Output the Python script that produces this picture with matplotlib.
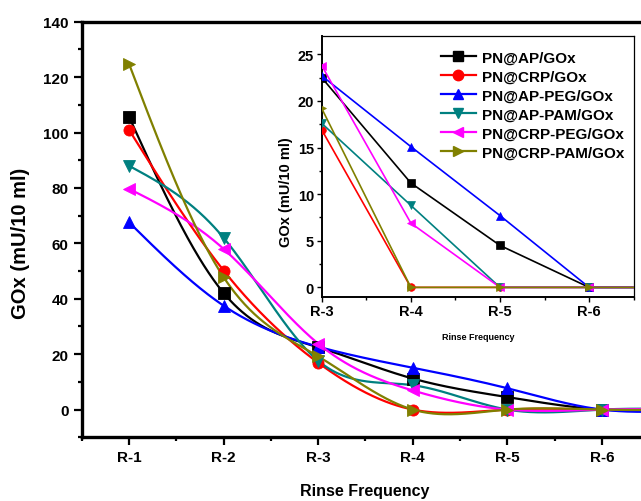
import numpy as np
import matplotlib
matplotlib.use("Agg")
import matplotlib.pyplot as plt
from matplotlib.ticker import MultipleLocator, FixedLocator

plt.rcParams["font.family"] = ["Liberation Sans", "DejaVu Sans"]
plt.rcParams["font.weight"] = "bold"

# Rinse steps (R-7 lies just past the visible range, where every series is back at zero)
rinse_labels = ["R-1", "R-2", "R-3", "R-4", "R-5", "R-6", "R-7"]

# GOx activity left on the particles after each rinse (mU/10 ml)
ap_gox = [105.7, 42.1, 22.5, 11.2, 4.5, 0.0, 0.0]
crp_gox = [101.0, 50.2, 16.9, 0.0, 0.0, 0.0, 0.0]
ap_peg_gox = [67.6, 37.5, 22.7, 15.1, 7.7, 0.0, 0.0]
ap_pam_gox = [88.0, 62.0, 17.6, 8.8, 0.0, 0.0, 0.0]
crp_peg_gox = [79.7, 58.0, 23.8, 6.9, 0.0, 0.0, 0.0]
crp_pam_gox = [124.8, 47.8, 19.2, 0.0, 0.0, 0.0, 0.0]

series_names = ["PN@AP/GOx", "PN@CRP/GOx", "PN@AP-PEG/GOx",
                "PN@AP-PAM/GOx", "PN@CRP-PEG/GOx", "PN@CRP-PAM/GOx"]
series_values = [ap_gox, crp_gox, ap_peg_gox, ap_pam_gox, crp_peg_gox, crp_pam_gox]
series_colors = ["#000000", "#ff0000", "#0000ff", "#008080", "#ff00ff", "#808000"]
series_markers = ["s", "o", "^", "v", "<", ">"]


def natural_cubic(x, y, xs):
    """Natural cubic spline through (x, y), evaluated at xs."""
    x = np.asarray(x, float)
    y = np.asarray(y, float)
    n = len(x)
    h = np.diff(x)
    A = np.zeros((n, n))
    b = np.zeros(n)
    A[0, 0] = A[-1, -1] = 1.0
    for i in range(1, n - 1):
        A[i, i - 1] = h[i - 1]
        A[i, i] = 2 * (h[i - 1] + h[i])
        A[i, i + 1] = h[i]
        b[i] = 6 * ((y[i + 1] - y[i]) / h[i] - (y[i] - y[i - 1]) / h[i - 1])
    M = np.linalg.solve(A, b)
    idx = np.clip(np.searchsorted(x, xs) - 1, 0, n - 2)
    x0, x1 = x[idx], x[idx + 1]
    hh = x1 - x0
    t0, t1 = x1 - xs, xs - x0
    return (M[idx] * t0 ** 3 / (6 * hh) + M[idx + 1] * t1 ** 3 / (6 * hh)
            + (y[idx] / hh - M[idx] * hh / 6) * t0
            + (y[idx + 1] / hh - M[idx + 1] * hh / 6) * t1)


W, H = 641, 502
fig = plt.figure(figsize=(W / 100, H / 100), dpi=100)

# ---------------- main panel ----------------
ax = fig.add_axes([81.7 / W, 1 - 438.3 / H, 567.6 / W, 415.6 / H])
xpos = np.arange(1, len(rinse_labels) + 1)
xs = np.linspace(xpos[0], xpos[-1], 600)

for name, vals, col, mk in zip(series_names, series_values, series_colors, series_markers):
    ax.plot(xs, natural_cubic(xpos, vals, xs), color=col, lw=1.6, zorder=2)
    ax.plot(xpos, vals, ls="none", marker=mk, ms=8, color=col,
            mec=col, mew=0.6, zorder=3)

ax.set_xlim(0.5, 6.5)
ax.set_ylim(-10, 140)
ax.xaxis.set_major_locator(FixedLocator(xpos))
ax.set_xticklabels(rinse_labels)
ax.xaxis.set_minor_locator(FixedLocator(np.arange(0.5, 7.6, 1.0)))
ax.yaxis.set_major_locator(MultipleLocator(20))
ax.yaxis.set_minor_locator(FixedLocator(np.arange(-10, 141, 10)))

for side in ("left", "bottom", "top"):
    ax.spines[side].set_linewidth(2.4)
ax.spines["right"].set_visible(False)
ax.tick_params(axis="both", which="major", direction="out", length=5.5, width=1.6,
               labelsize=11, pad=4)
ax.tick_params(axis="both", which="minor", direction="out", length=3, width=1.6)
for lab in ax.get_xticklabels() + ax.get_yticklabels():
    lab.set_fontweight("bold")

fig.text(20.7 / W, 1 - 243 / H, "GOx (mU/10 ml)", rotation=90, ha="center",
         va="center", fontsize=14.5, fontweight="bold")
fig.text(365 / W, 1 - 491.7 / H, "Rinse Frequency", ha="center", va="center",
         fontsize=11.5, fontweight="bold")

# ---------------- inset: R-3 to R-6 ----------------
ins = fig.add_axes([321.7 / W, 1 - 297.7 / H, 312.0 / W, 261.0 / H])
ins.set_facecolor("white")
legend_lines = []
for name, vals, col, mk in zip(series_names, series_values, series_colors, series_markers):
    ins.plot(xpos[2:], vals[2:], color=col, lw=1.2, marker=mk, ms=5.5, mec=col,
             mew=0.5, zorder=3)
    ln, = ins.plot([], [], color=col, lw=1.6, marker=mk, ms=7.5, mec=col, label=name)
    legend_lines.append(ln)

ins.set_xlim(3, 6.5)
ins.set_ylim(-1, 27)
ins.xaxis.set_major_locator(FixedLocator(xpos[2:6]))
ins.set_xticklabels(rinse_labels[2:6])
ins.xaxis.set_minor_locator(FixedLocator([3.5, 4.5, 5.5, 6.5]))
ins.yaxis.set_major_locator(MultipleLocator(5))
ins.yaxis.set_minor_locator(MultipleLocator(2.5))
ins.spines["left"].set_linewidth(1.4)
ins.spines["bottom"].set_linewidth(1.4)
ins.spines["top"].set_linewidth(0.9)
ins.spines["right"].set_linewidth(0.9)
ins.tick_params(axis="both", which="major", direction="out", length=3.5, width=1.0,
                labelsize=10.5, pad=2)
ins.tick_params(axis="both", which="minor", direction="out", length=2, width=1.0)
for lab in ins.get_xticklabels() + ins.get_yticklabels():
    lab.set_fontweight("bold")

fig.text(286 / W, 1 - 191.7 / H, "GOx (mU/10 ml)", rotation=90, ha="center",
         va="center", fontsize=10.5, fontweight="bold")
fig.text(478 / W, 1 - 338 / H, "Rinse Frequency", ha="center", va="center",
         fontsize=6.5, fontweight="bold")

fig.legend(handles=legend_lines, loc="upper left", bbox_to_anchor=(440.7 / W, 1 - 51.5 / H),
           frameon=False, borderpad=0, borderaxespad=0, handlelength=2.3,
           handletextpad=0.4, labelspacing=0.33, prop={"size": 11, "weight": "bold"})

fig.savefig("out.png", dpi=100)
